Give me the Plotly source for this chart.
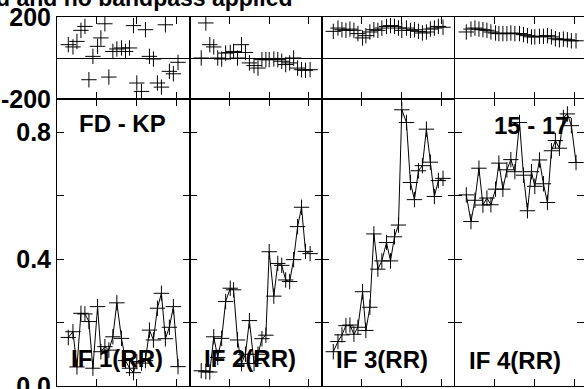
import plotly.graph_objects as go
from plotly.subplots import make_subplots

# sample times (hours, shared by all IFs)
times = [0.85, 1.2, 1.5, 1.8, 2.1, 2.4, 2.7, 3.05, 3.3, 3.6, 3.9, 4.2, 4.5, 4.85,
         5.15, 5.45, 5.75, 6.0, 6.35, 6.65, 6.95, 7.25, 7.55, 7.85, 8.15, 8.45, 8.75, 9.1]

if_labels = ["IF 1(RR)", "IF 2(RR)", "IF 3(RR)", "IF 4(RR)"]

# amplitudes per IF
amp_if1 = [0.153, 0.171, 0.06, 0.229, 0.227, 0.203, 0.056, 0.25, 0.108, 0.124, 0.113, 0.155, 0.262, 0.15,
           0.08, 0.056, 0.042, 0.077, 0.072, 0.08, 0.176, 0.145, 0.245, 0.292, 0.149, 0.185, 0.25, 0.061]
amp_if2 = [0.048, 0.045, 0.044, 0.155, 0.09, 0.15, 0.266, 0.308, 0.303, 0.145, 0.071, 0.1, 0.206, 0.071,
           0.1, 0.149, 0.16, 0.423, 0.283, 0.386, 0.38, 0.334, 0.329, 0.398, 0.502, 0.563, 0.424, 0.417]
amp_if3 = [0.108, 0.14, 0.161, 0.19, 0.192, 0.163, 0.185, 0.297, 0.175, 0.248, 0.479, 0.368, 0.394, 0.452,
           0.394, 0.47, 0.507, 0.87, 0.83, 0.641, 0.587, 0.678, 0.694, 0.809, 0.705, 0.597, 0.647, 0.654]
amp_if4 = [0.602, 0.518, 0.585, 0.686, 0.57, 0.592, 0.571, 0.62, 0.702, 0.62, 0.681, 0.713, 0.675, 0.83,
           0.664, 0.552, 0.675, 0.629, 0.712, 0.637, 0.578, 0.741, 0.773, 0.749, 0.846, 0.857, 0.82, 0.704]

# phases (degrees) per IF
ph_if1 = [65, 54, 81, 135, 154, -106, 8, 57, 98, 167, -93, 32, 44, 49,
          32, 49, 158, -122, -163, 138, 8, -5, -122, -142, 162, -65, -77, -21]
ph_if2 = [0, 171, 65, 54, 0, -5, 24, 27, 32, 0, 65, 27, -24, -37,
          -49, -8, -8, -8, -5, -8, -16, -32, -24, 0, -49, -57, -60, -57]
ph_if3 = [130, 146, 138, 135, 141, 135, 119, 98, 109, 127, 138, 135, 146, 154,
          158, 154, 146, 135, 146, 135, 138, 130, 122, 127, 141, 146, 154, 150]
ph_if4 = [127, 141, 146, 141, 138, 135, 127, 122, 119, 119, 119, 122, 119, 119,
          114, 109, 103, 103, 106, 106, 109, 103, 94, 89, 92, 89, 84, 84]

amps = [amp_if1, amp_if2, amp_if3, amp_if4]
phases = [ph_if1, ph_if2, ph_if3, ph_if4]

FONT = dict(family="Liberation Sans, Arial, sans-serif", size=24, color="black", weight="bold")
TICKFONT = dict(FONT, size=25)

fig = make_subplots(rows=2, cols=4, column_widths=[133, 132, 133, 129], row_heights=[82, 287],
                    horizontal_spacing=0, vertical_spacing=0)

mk = dict(symbol="cross-thin", size=11, line=dict(color="black", width=1), color="black")
for i in range(4):
    fig.add_trace(go.Scatter(x=times, y=phases[i], mode="markers", marker=mk,
                             showlegend=False), row=1, col=i + 1)
    fig.add_trace(go.Scatter(x=times, y=amps[i], mode="lines+markers", marker=mk,
                             line=dict(color="black", width=1), showlegend=False), row=2, col=i + 1)

axis_common = dict(showline=True, linecolor="black", linewidth=1, mirror="ticks", ticks="inside",
                   ticklen=7, tickcolor="black", showgrid=False, tickfont=TICKFONT, automargin=False,
                   ticklabeloverflow="allow")
for i in range(4):
    xr = [0, 9.7] if i == 3 else [0, 10]
    for r in (1, 2):
        fig.update_xaxes(axis_common, range=xr, tickvals=[3, 6, 9], showticklabels=False,
                         zeroline=False, row=r, col=i + 1)
    fig.update_yaxes(axis_common, range=[-200, 200], tickvals=[-200, 0, 200], ticktext=["-200", "", "200"],
                     zeroline=True, zerolinecolor="black", zerolinewidth=1,
                     showticklabels=(i == 0), row=1, col=i + 1)
    fig.update_yaxes(axis_common, range=[0, 0.904], tickvals=[0, 0.2, 0.4, 0.6, 0.8],
                     ticktext=["0.0", "", "0.4", "", "0.8"], zeroline=False,
                     showticklabels=(i == 0), row=2, col=i + 1)

# panel labels, placed in pixel terms of the plot area
def px_x(x):
    return (x - 57) / 527


def px_y(y):
    return (386 - y) / 369


labels = [("FD - KP", 122, 123), ("15 - 17", 531, 125),
          (if_labels[0], 117, 358), (if_labels[1], 250, 358), (if_labels[2], 382, 359), (if_labels[3], 515, 360)]
for txt, x, y in labels:
    fig.add_annotation(text=txt, x=px_x(x), y=px_y(y), xref="paper", yref="paper",
                       showarrow=False, font=FONT, xanchor="center", yanchor="middle")

fig.add_annotation(text="d and no bandpass applied", x=px_x(294), y=px_y(-2), xref="paper", yref="paper",
                   showarrow=False, font=dict(FONT, size=23), xanchor="right", yanchor="middle")

fig.update_layout(width=584, height=389, margin=dict(l=57, r=0, t=17, b=3),
                  plot_bgcolor="white", paper_bgcolor="white")

# drop the default page margin so the figure sits at the window corner
fig.write_html("out.html", config={"displayModeBar": False},
               post_script="document.body.style.margin='0';")
